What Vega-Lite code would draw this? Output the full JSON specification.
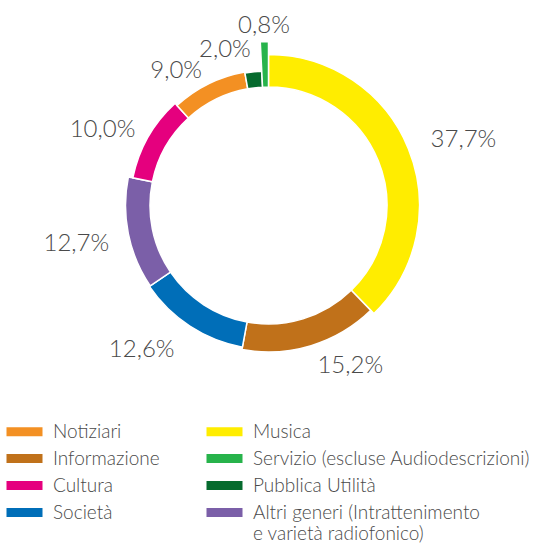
{
  "$schema": "https://vega.github.io/schema/vega-lite/v6.json",
  "width": 537,
  "height": 407,
  "autosize": {"type": "none"},
  "padding": {"top": 2, "left": 0, "right": 15, "bottom": 137},
  "background": "white",
  "config": {
    "view": {"stroke": "#1a75c4", "strokeWidth": 1.5, "strokeDash": [0, 9, 526, 100000]},
    "locale": {"number": {"decimal": ",", "thousands": ".", "grouping": [3], "currency": ["€", ""]}},
    "legend": {
      "orient": "none",
      "legendX": 6,
      "legendY": 420,
      "columns": 2,
      "title": null,
      "symbolType": "M-1,-0.5H3V0.5H-1Z",
      "symbolSize": 324,
      "symbolStrokeWidth": 0,
      "symbolOpacity": 1,
      "labelFont": "Lato",
      "labelFontWeight": 300,
      "labelFontSize": 19,
      "labelColor": "#4a4a4a",
      "labelLimit": 500,
      "labelOffset": 28,
      "rowPadding": 7,
      "columnPadding": 46,
      "padding": 0
    }
  },
  "data": {
    "values": [
      {"genere": "Musica", "quota": 0.377, "ordine": 1},
      {"genere": "Informazione", "quota": 0.152, "ordine": 2},
      {"genere": "Società", "quota": 0.126, "ordine": 3},
      {"genere": "Altri generi (Intrattenimento e varietà radiofonico)", "quota": 0.127, "ordine": 4},
      {"genere": "Cultura", "quota": 0.100, "ordine": 5},
      {"genere": "Notiziari", "quota": 0.090, "ordine": 6},
      {"genere": "Pubblica Utilità", "quota": 0.020, "ordine": 7},
      {"genere": "Servizio (escluse Audiodescrizioni)", "quota": 0.008, "ordine": 8}
    ]
  },
  "encoding": {
    "theta": {"field": "quota", "type": "quantitative", "stack": true},
    "order": {"field": "ordine", "type": "quantitative"}
  },
  "layer": [
    {
      "mark": {"type": "arc", "innerRadius": 118.5, "stroke": "white", "strokeWidth": 1.5},
      "encoding": {
        "radius": {
          "field": "quota", "type": "quantitative",
          "scale": {"type": "linear", "zero": false, "nice": false,
            "domain": [0.008, 0.02, 0.09, 0.10, 0.126, 0.127, 0.152, 0.377],
            "range": [164, 134.5, 135.5, 138.5, 144, 143, 146.5, 151]}
        },
        "color": {
          "field": "genere", "type": "nominal",
          "scale": {
            "domain": ["Notiziari", "Informazione", "Cultura", "Società", "Musica", "Servizio (escluse Audiodescrizioni)", "Pubblica Utilità", "Altri generi (Intrattenimento e varietà radiofonico)"],
            "range": ["#F39023", "#C0711A", "#E5007E", "#006EB8", "#FFED00", "#27B34B", "#066B2E", "#7B5FA8"]
          },
          "legend": {
            "labelExpr": "indexof(datum.label, 'Altri generi') === 0 ? ['Altri generi (Intrattenimento', 'e varietà radiofonico)'] : datum.label"
          }
        }
      }
    },
    {
      "mark": {"type": "text", "align": "left", "baseline": "middle", "font": "Lato", "fontWeight": 300, "fontSize": 24, "color": "#4a4a4a"},
      "encoding": {
        "radius": {
          "field": "quota", "type": "quantitative",
          "scale": {"type": "linear", "zero": false, "nice": false,
            "domain": [0.008, 0.02, 0.09, 0.10, 0.126, 0.127, 0.152, 0.377],
            "range": [180, 157, 150, 153, 172, 194, 168, 175]}
        },
        "text": {
          "condition": {"test": "datum.genere === 'Musica' || datum.genere === 'Informazione'", "field": "quota", "type": "quantitative", "format": ".1%"},
          "value": ""
        }
      }
    },
    {
      "mark": {"type": "text", "align": "right", "baseline": "middle", "font": "Lato", "fontWeight": 300, "fontSize": 24, "color": "#4a4a4a"},
      "encoding": {
        "radius": {
          "field": "quota", "type": "quantitative",
          "scale": {"type": "linear", "zero": false, "nice": false,
            "domain": [0.008, 0.02, 0.09, 0.10, 0.126, 0.127, 0.152, 0.377],
            "range": [180, 157, 150, 153, 172, 194, 168, 175]}
        },
        "text": {
          "condition": {"test": "datum.genere === 'Società' || datum.genere === 'Cultura' || datum.genere === 'Notiziari' || datum.genere === 'Pubblica Utilità'", "field": "quota", "type": "quantitative", "format": ".1%"},
          "value": ""
        }
      }
    },
    {
      "mark": {"type": "text", "align": "center", "baseline": "middle", "font": "Lato", "fontWeight": 300, "fontSize": 24, "color": "#4a4a4a"},
      "encoding": {
        "radius": {
          "field": "quota", "type": "quantitative",
          "scale": {"type": "linear", "zero": false, "nice": false,
            "domain": [0.008, 0.02, 0.09, 0.10, 0.126, 0.127, 0.152, 0.377],
            "range": [180, 157, 150, 153, 172, 196, 168, 175]}
        },
        "text": {
          "condition": {"test": "indexof(datum.genere, 'Altri') === 0 || indexof(datum.genere, 'Servizio') === 0", "field": "quota", "type": "quantitative", "format": ".1%"},
          "value": ""
        }
      }
    }
  ],
  "resolve": {"scale": {"radius": "independent"}}
}
